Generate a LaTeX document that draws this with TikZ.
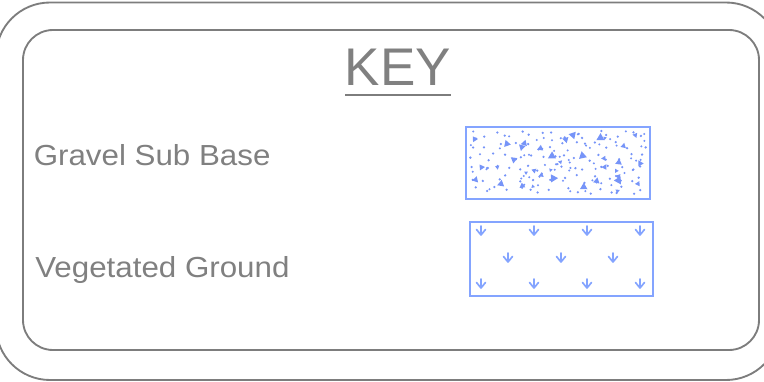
\documentclass[tikz,border=0pt]{standalone}
\usepackage{fontspec}
\setmainfont{Liberation Sans}
\newfontfamily\labelfont[FakeStretch=1.08]{Liberation Sans}
\definecolor{framegray}{RGB}{125,125,125}
\definecolor{textgray}{RGB}{128,128,128}
\definecolor{keyblue}{RGB}{132,164,255}
\definecolor{dotblue}{RGB}{118,148,248}
\begin{document}
\begin{tikzpicture}[x=0.75pt,y=-0.75pt,
  frameline/.style={draw=framegray,line width=1.4pt},
  labeltext/.style={text=textgray,font=\labelfont\fontsize{21.75pt}{26pt}\selectfont,anchor=base west,inner sep=0pt},
  keytext/.style={text=textgray,font=\fontsize{39.75pt}{46pt}\selectfont,anchor=base,inner sep=0pt},
  swatch/.style={draw=keyblue,line width=1.4pt,rectangle,inner sep=0pt},
  vegarrow/.style={draw=keyblue,line width=1.25pt,line cap=round,line join=round}]
\useasboundingbox (0,0) rectangle (764,382);
% frames
\draw[frameline,rounded corners=40.5pt] (-4,2.5) rectangle (780,380);
\draw[frameline,rounded corners=22.5pt] (23,30) rectangle (759,350);
% title
\node[keytext] (key) at (398,85) {KEY};
\coordinate (ulw) at (345,95);
\coordinate (ule) at (451,95);
\draw[frameline] (ulw) -- (ule);
% labels
\node[labeltext] (gravel) at (33.5,165) {Gravel Sub Base};
\node[labeltext] (veg) at (35,277) {Vegetated Ground};
% gravel swatch
\node[swatch,minimum width=138pt,minimum height=54pt] (gravelbox) at (558,163) {};
\pgfmathsetseed{11}
\foreach \i in {0,...,15}{
  \foreach \j in {0,...,5}{
    \pgfmathsetmacro{\px}{470+11.2*\i+9*rnd}
    \pgfmathsetmacro{\py}{131+11*\j+8*rnd}
    \fill[dotblue] (\px,\py) circle[radius=0.95pt];
  }
}
\foreach \i in {1,...,60}{
  \pgfmathsetmacro{\px}{470+176*rnd}
  \pgfmathsetmacro{\py}{131+65*rnd}
  \fill[dotblue] (\px,\py) circle[radius=0.85pt];
}
\foreach \i in {0,...,8}{
  \foreach \j in {0,...,2}{
    \pgfmathsetmacro{\px}{474+19.5*\i+14*rnd}
    \pgfmathsetmacro{\py}{135+20*\j+16*rnd}
    \pgfmathsetmacro{\ang}{360*rnd}
    \pgfmathsetmacro{\sz}{2.4+2.3*rnd}
    \fill[dotblue,shift={(\px,\py)},rotate=\ang] (0:\sz) -- (120:\sz) -- (240:\sz) -- cycle;
  }
}
\foreach \i in {1,...,10}{
  \pgfmathsetmacro{\px}{474+168*rnd}
  \pgfmathsetmacro{\py}{135+56*rnd}
  \pgfmathsetmacro{\ang}{360*rnd}
  \pgfmathsetmacro{\sz}{2+1.8*rnd}
  \fill[dotblue,shift={(\px,\py)},rotate=\ang] (0:\sz) -- (120:\sz) -- (240:\sz) -- cycle;
}
% vegetated swatch
\node[swatch,minimum width=137.25pt,minimum height=55.5pt] (vegbox) at (561.5,259) {};
\foreach \tx/\ty in {481/235,534/235,587/235,640/235,508/262,561/262,613/262,481/288,534/288,587/288,640/288}{
  \draw[vegarrow] (\tx,\ty-9) -- (\tx,\ty) (\tx-4.5,\ty-5.5) -- (\tx,\ty) -- (\tx+4.5,\ty-5.5);
}
\end{tikzpicture}
\end{document}
